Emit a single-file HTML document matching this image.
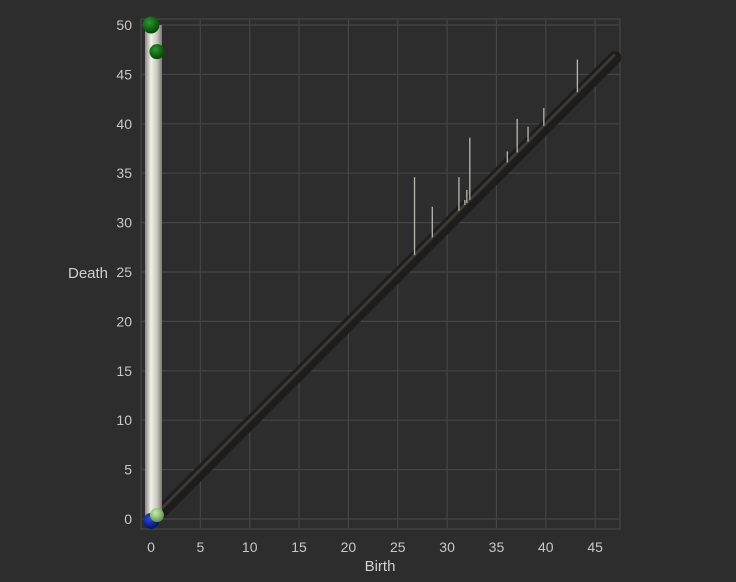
<!DOCTYPE html>
<html><head><meta charset="utf-8"><style>
body{margin:0;background:#2d2d2d;}
svg{display:block;font-family:"Liberation Sans",sans-serif;}
</style></head><body>
<svg id="chart" width="736" height="582" viewBox="0 0 736 582">
<defs>
<linearGradient id="tube" x1="0" x2="1" y1="0" y2="0">
<stop offset="0" stop-color="#8a8a82"/><stop offset="0.35" stop-color="#f2f2ea"/><stop offset="0.7" stop-color="#c8c8c0"/><stop offset="1" stop-color="#7a7a74"/>
</linearGradient>
<linearGradient id="diag" x1="0" x2="1" y1="0" y2="1">
<stop offset="0" stop-color="#3a3936"/><stop offset="0.5" stop-color="#262522"/><stop offset="1" stop-color="#121110"/>
</linearGradient>
<radialGradient id="g1" cx="0.4" cy="0.35" r="0.6"><stop offset="0" stop-color="#2a9a2a"/><stop offset="1" stop-color="#0a4a0a"/></radialGradient>
<radialGradient id="b1" cx="0.4" cy="0.35" r="0.6"><stop offset="0" stop-color="#2a4ad0"/><stop offset="1" stop-color="#061a6a"/></radialGradient>
<radialGradient id="lg" cx="0.4" cy="0.35" r="0.6"><stop offset="0" stop-color="#c8f0b0"/><stop offset="1" stop-color="#6a9a5a"/></radialGradient>
</defs>
<g id="grid"></g>
<g id="axes"></g>
<g id="marks"></g>
<text x="88" y="278" fill="#d0d0d0" font-size="15" text-anchor="middle">Death</text>
<text x="380" y="571" fill="#d0d0d0" font-size="15" text-anchor="middle">Birth</text>
</svg>
<script>
const xTicks=[0,5,10,15,20,25,30,35,40,45];
const yTicks=[0,5,10,15,20,25,30,35,40,45,50];
const births=[26.7,28.5,31.2,31.8,32.0,32.3,36.1,37.1,38.2,39.8,43.2];
const deaths=[34.6,31.6,34.6,32.3,33.3,38.6,37.2,40.5,39.7,41.6,46.5];
const essentialBirth=0, essentialDeath=50;
const sx=v=>151+v*9.87, sy=v=>519-v*9.88;
const NS="http://www.w3.org/2000/svg";
function mk(p,t,a){const e=document.createElementNS(NS,t);for(const k in a)e.setAttribute(k,a[k]);p.appendChild(e);return e;}
const grid=document.getElementById('grid'),axes=document.getElementById('axes'),marks=document.getElementById('marks');
mk(grid,'rect',{x:141,y:19,width:479,height:510,fill:'none',stroke:'#4a4a4a','stroke-width':1});
xTicks.forEach(t=>{const l=mk(grid,'line',{x1:sx(t),x2:sx(t),y1:19,y2:529,stroke:'#454545','stroke-width':1.2});

const tx=mk(axes,'text',{x:sx(t),y:552,fill:'#c8c8c8','font-size':14,'text-anchor':'middle'});tx.textContent=t;
});
yTicks.forEach(t=>{const l=mk(grid,'line',{x1:141,x2:620,y1:sy(t),y2:sy(t),stroke:'#454545','stroke-width':1.2});

const tx=mk(axes,'text',{x:132,y:sy(t)+5,fill:'#c8c8c8','font-size':14,'text-anchor':'end'});tx.textContent=t;
});
// diagonal
const d=mk(marks,'line',{x1:sx(1),y1:sy(0.7),x2:sx(47),y2:sy(46.7),stroke:'#1e1d1b','stroke-width':13,'stroke-linecap':'round'});

mk(marks,'line',{x1:sx(1),y1:sy(0.7)-3,x2:sx(47),y2:sy(46.7)-3,stroke:'#3a3936','stroke-width':3});
// essential bar
const eb=mk(marks,'rect',{x:sx(essentialBirth)-6,y:sy(essentialDeath),width:17,height:sy(0)-sy(essentialDeath),fill:'url(#tube)'});

births.forEach((b,i)=>{const l=mk(marks,'line',{x1:sx(b),x2:sx(b),y1:sy(deaths[i]),y2:sy(b),stroke:'#b8b8b0','stroke-width':1.3});
});
[[0,50,'url(#g1)',8.5],[0.6,47.3,'url(#g1)',7.5],[0,-0.2,'url(#b1)',8],[0.6,0.4,'url(#lg)',7]].forEach(p=>{
const c=mk(marks,'circle',{cx:sx(p[0]),cy:sy(p[1]),r:p[3],fill:p[2]});
});
</script>
</body></html>
